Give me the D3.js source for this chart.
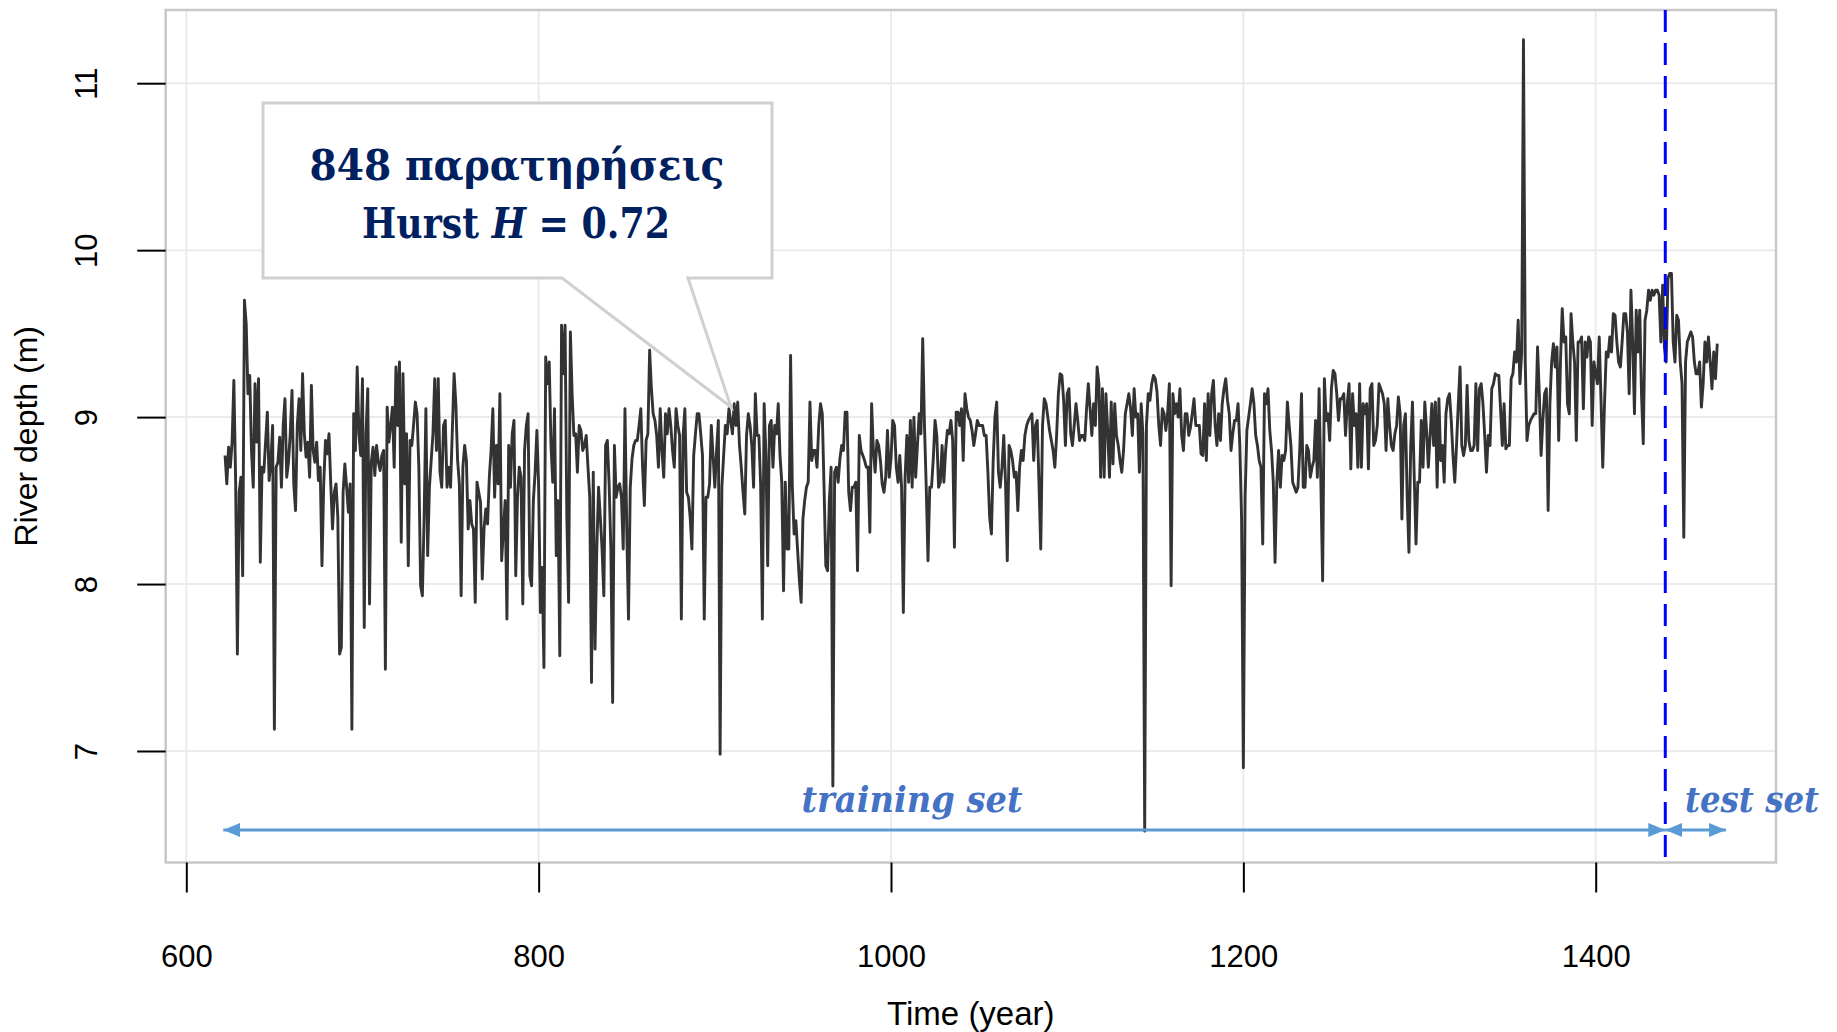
<!DOCTYPE html>
<html><head><meta charset="utf-8">
<script src="https://cdn.jsdelivr.net/npm/d3@7"></script>
<style>html,body{margin:0;padding:0;background:#fff;} svg{display:block;}</style>
</head><body>
<svg id="chart" width="1837" height="1032"></svg>
<script>
// ---------- data ----------
const xTicks = [600, 800, 1000, 1200, 1400];
const yTicks = [7, 8, 9, 10, 11];
const splitYear = 1439.5;
const calloutLine1 = "848 παρατηρήσεις";
const calloutLine2 = ["Hurst ", "H", " = 0.72"];
const trainLabel = "training set";
const testLabel = "test set";
const xTitle = "Time (year)";
const yTitle = "River depth (m)";

// river depth (m), one value per year
const d600 = [ // 622-699
8.77,8.60,8.82,8.70,8.85,9.22,8.62,7.58,
8.55,8.64,8.05,9.70,9.56,9.14,9.25,8.80,8.58,9.20,
8.85,9.23,8.13,8.70,8.67,8.85,9.03,8.62,8.73,8.95,
7.13,8.70,8.73,8.88,8.58,8.95,9.11,8.64,8.73,8.90,
9.16,8.60,8.44,8.95,9.11,8.80,9.26,8.90,8.76,8.85,
8.64,9.19,8.80,8.73,8.85,8.62,8.70,8.11,8.60,8.86,
8.78,8.90,8.60,8.33,8.55,8.60,8.40,7.58,7.62,8.55,
8.72,8.58,8.43,8.60,7.13,9.02,8.80,9.30,8.90,8.77];
const d700 = [ // 700-799
9.23,7.74,8.90,9.17,7.88,8.73,8.82,8.65,8.83,8.73,
8.68,8.77,8.80,7.49,9.06,8.85,8.95,9.06,8.70,9.30,
8.95,9.33,8.25,9.26,8.60,8.90,8.11,8.86,8.83,8.95,
9.09,9.02,8.70,7.99,7.93,8.40,9.05,8.17,8.58,8.74,
8.90,9.23,8.80,9.23,8.67,8.58,8.95,8.98,8.58,8.70,
8.58,8.92,9.26,9.08,8.74,8.60,7.93,8.70,8.83,8.74,
8.33,8.50,8.36,8.33,7.89,8.61,8.55,8.49,8.03,8.33,
8.45,8.36,8.64,8.80,9.05,8.52,8.83,8.60,9.14,8.14,
8.33,8.50,7.79,8.83,8.58,8.90,8.98,8.05,8.52,8.70,
8.64,7.88,8.80,8.95,9.02,8.05,7.99,8.50,8.67,8.92];
const d800 = [ // 800-899
8.58,7.83,8.10,7.50,9.36,9.20,9.33,8.83,8.61,9.05,
8.17,8.50,7.57,9.55,9.26,9.55,8.40,7.89,9.51,9.14,
8.89,8.90,8.67,8.95,8.92,8.80,8.83,8.89,8.70,8.52,
7.41,8.67,7.61,8.21,8.58,8.40,8.21,7.93,8.83,8.86,
8.60,8.21,7.29,8.83,8.52,8.58,8.60,8.52,8.21,9.05,
8.33,7.79,8.58,8.75,8.83,8.86,8.86,8.95,9.05,8.70,
8.47,8.86,8.90,9.40,9.17,9.02,8.98,8.89,8.70,9.05,
8.80,8.64,9.02,8.90,9.05,8.95,8.80,8.70,9.05,8.95,
8.89,7.79,8.89,9.05,8.55,8.52,8.40,8.21,8.77,8.90,
9.02,9.02,8.90,8.77,7.79,8.52,8.52,8.60,8.95,8.77];
const d900 = [ // 900-999
8.58,8.80,8.98,6.98,8.58,8.77,8.95,8.90,9.05,8.98,
8.90,9.08,8.95,9.09,8.83,8.70,8.55,8.42,8.89,9.02,
8.95,8.83,8.58,9.14,8.89,8.89,8.60,7.79,9.08,8.77,
8.11,8.95,8.98,8.70,8.95,8.90,9.08,8.77,8.61,7.96,
8.61,8.21,8.21,9.37,8.58,8.30,8.38,8.20,8.02,7.89,
8.39,8.50,8.58,8.61,9.09,8.74,8.80,8.80,8.70,8.95,
9.08,9.02,8.58,8.11,8.08,8.50,8.70,6.79,8.67,8.70,
8.61,8.75,8.83,8.80,9.03,9.03,8.55,8.44,8.58,8.58,
8.61,8.08,8.89,8.80,8.77,8.74,8.70,8.70,8.31,9.08,
8.80,8.67,8.86,8.83,8.74,8.60,8.55,8.64,8.92,8.64];
const d1000 = [ // 1000-1099
8.75,8.98,8.95,8.70,8.61,8.77,8.58,7.83,8.64,8.89,
8.61,8.98,8.58,9.00,8.64,8.83,9.02,8.90,9.47,8.95,
8.58,8.14,8.58,8.58,8.75,8.98,8.89,8.58,8.61,8.83,
8.61,8.80,8.92,8.90,8.98,8.86,8.22,9.03,9.03,8.95,
9.05,8.74,9.14,9.05,9.00,8.98,8.92,8.83,8.90,8.98,
8.95,8.95,8.95,8.89,8.89,8.67,8.40,8.30,8.74,9.00,
9.09,8.67,8.58,8.70,8.89,8.61,8.14,8.83,8.80,8.74,
8.64,8.67,8.44,8.70,8.80,8.74,8.89,8.95,8.98,9.00,
9.02,8.74,8.95,8.98,8.60,8.21,8.95,9.11,9.08,9.00,
8.92,8.86,8.80,8.70,8.89,9.14,9.26,9.25,9.10,8.83];
const d1100 = [ // 1100-1199
9.14,9.17,8.90,8.83,8.95,9.08,8.98,8.86,8.89,8.89,
8.86,9.05,9.20,9.05,8.89,9.08,8.95,9.30,9.20,8.64,
9.17,8.64,9.14,8.92,8.64,9.09,8.72,9.08,8.89,8.83,
8.74,8.67,8.80,9.02,9.08,9.14,9.05,8.89,9.17,9.00,
9.02,8.67,9.08,8.90,6.52,8.95,9.14,9.10,9.20,9.25,
9.23,9.15,8.95,8.83,9.05,9.02,8.92,9.02,9.20,7.99,
9.14,9.02,9.08,9.00,9.17,8.89,8.80,9.02,9.02,8.89,
8.94,9.02,9.11,8.95,8.95,8.95,8.78,8.77,9.08,8.74,
9.14,8.89,9.14,9.22,8.95,8.83,9.02,8.86,9.08,9.17,
9.23,9.10,9.02,8.80,8.90,8.98,8.98,9.08,8.83,8.39];
const d1200 = [ // 1200-1299
6.90,8.52,8.92,9.00,9.08,9.17,9.08,8.89,8.83,8.74,
8.70,8.24,9.14,9.08,9.17,8.92,8.80,8.61,8.13,8.61,
8.80,8.58,8.77,8.74,8.80,9.09,8.95,8.83,8.61,8.58,
8.55,8.58,8.80,9.14,8.58,8.58,8.83,8.80,8.64,8.70,
8.74,8.98,8.64,9.17,8.61,8.02,9.23,8.98,9.02,8.86,
9.17,9.28,9.26,9.14,8.98,9.11,9.11,9.14,8.89,9.08,
9.20,8.69,9.14,8.95,9.02,8.70,9.20,8.70,9.08,9.02,
9.08,8.69,9.17,9.20,8.83,8.86,8.95,9.20,9.17,9.14,
9.08,8.80,9.11,8.95,8.83,8.80,8.90,8.95,9.12,9.02,
8.39,8.95,9.02,8.52,8.19,8.83,9.09,8.64,8.24,8.61];
const d1300 = [ // 1300-1399
8.61,8.98,8.70,9.09,8.92,8.70,8.89,9.08,8.83,9.09,
8.58,9.11,8.74,8.83,8.61,9.02,9.11,9.14,8.98,8.77,
8.61,8.83,9.08,9.30,8.83,8.77,8.83,9.19,8.86,8.80,
8.80,8.83,9.20,8.80,9.17,9.20,9.08,8.89,8.67,8.89,
8.83,9.17,9.20,9.26,9.25,9.25,9.05,8.83,9.08,8.81,
8.83,8.83,9.23,9.26,9.39,9.33,9.58,9.20,9.39,11.26,
9.33,8.86,8.95,8.98,9.00,9.02,9.02,9.42,9.14,8.77,
8.98,9.14,9.17,8.44,9.08,9.33,9.44,9.30,9.42,8.86,
9.33,9.65,9.45,9.48,9.08,9.02,9.62,9.45,9.33,8.86,
9.45,9.45,9.48,9.05,9.45,9.36,9.48,9.45,8.95,9.33];
const d1400 = [ // 1400-1469
9.26,9.20,9.48,9.11,8.70,9.08,9.39,9.36,9.48,9.39,
9.62,9.61,9.45,9.33,9.30,9.45,9.62,9.62,9.51,9.14,
9.76,9.45,9.02,9.64,9.39,9.64,9.14,8.84,9.58,9.64,
9.76,9.70,9.76,9.73,9.76,9.76,9.73,9.45,9.79,9.42,
9.33,9.83,9.86,9.86,9.45,9.33,9.61,9.58,9.33,9.20,
8.28,9.33,9.45,9.48,9.51,9.48,9.33,9.26,9.26,9.33,
9.06,9.20,9.45,9.33,9.48,9.33,9.17,9.39,9.23,9.44];

const blocks = [[622,d600],[700,d700],[800,d800],[900,d900],[1000,d1000],
                [1100,d1100],[1200,d1200],[1300,d1300],[1400,d1400]];
const data = blocks.flatMap(([s, arr]) => arr.map((v, i) => ({year: s + i, depth: v})));

// ---------- layout ----------
const svg = d3.select("#chart");
const box = {left: 165.7, right: 1776, top: 10, bottom: 862.5};
const x = d3.scaleLinear().domain([600, 1400]).range([186.3, 1595.7]);
const y = d3.scaleLinear().domain([7, 11]).range([751, 83.2]);
const sans = "'Liberation Sans', Arial, sans-serif";
const serif = "'DejaVu Serif', serif";

// gridlines
const grid = svg.append("g").attr("stroke", "#ebebeb").attr("stroke-width", 2);
grid.selectAll("line.h").data(yTicks).join("line").attr("class","h")
  .attr("x1", box.left).attr("x2", box.right).attr("y1", d => y(d)).attr("y2", d => y(d));
grid.selectAll("line.v").data(xTicks).join("line").attr("class","v")
  .attr("y1", box.top).attr("y2", box.bottom).attr("x1", d => x(d)).attr("x2", d => x(d));

// data line
svg.append("path").datum(data)
  .attr("fill", "none").attr("stroke", "#333333").attr("stroke-width", 2.9)
  .attr("stroke-linejoin", "round")
  .attr("d", d3.line().x(d => x(d.year)).y(d => y(d.depth)));

// plot box
svg.append("rect").attr("x", box.left).attr("y", box.top)
  .attr("width", box.right - box.left).attr("height", box.bottom - box.top)
  .attr("fill", "none").attr("stroke", "#c8c8c8").attr("stroke-width", 2.5);

// x axis
const gx = svg.append("g").attr("transform", `translate(0,${box.bottom})`)
  .call(d3.axisBottom(x).tickValues(xTicks).tickSize(30).tickFormat(d3.format("d")));
gx.select(".domain").remove();
gx.selectAll(".tick line").attr("stroke", "#000").attr("stroke-width", 2);
gx.selectAll(".tick text").attr("y", 104.5).attr("dy", null)
  .attr("font-family", sans).attr("font-size", 31).attr("fill", "#000");

// y axis
const gy = svg.append("g").attr("transform", `translate(${box.left},0)`)
  .call(d3.axisLeft(y).tickValues(yTicks).tickSize(28.5).tickFormat(d3.format("d")));
gy.select(".domain").remove();
gy.selectAll(".tick line").attr("stroke", "#000").attr("stroke-width", 2);
gy.selectAll(".tick text").attr("x", null).attr("dy", null).attr("text-anchor", "middle")
  .attr("transform", `translate(${97 - box.left},0) rotate(-90)`)
  .attr("font-family", sans).attr("font-size", 31).attr("fill", "#000");

// axis titles
svg.append("text").attr("x", (box.left + box.right) / 2).attr("y", 1025)
  .attr("text-anchor", "middle").attr("font-family", sans).attr("font-size", 33)
  .attr("fill", "#000").text(xTitle);
svg.append("text").attr("transform", `translate(37,${(box.top + box.bottom) / 2}) rotate(-90)`)
  .attr("text-anchor", "middle").attr("font-family", sans).attr("font-size", 32)
  .attr("fill", "#000").text(yTitle);

// split line
svg.append("line").attr("x1", x(splitYear)).attr("x2", x(splitYear))
  .attr("y1", box.top).attr("y2", box.bottom)
  .attr("stroke", "#0000ff").attr("stroke-width", 3).attr("stroke-dasharray", "22,11");

// arrows
const defs = svg.append("defs");
defs.append("marker").attr("id", "arr").attr("markerUnits", "userSpaceOnUse")
  .attr("markerWidth", 18).attr("markerHeight", 14).attr("refX", 17).attr("refY", 7)
  .attr("orient", "auto-start-reverse")
  .append("path").attr("d", "M0,0 L17,7 L0,14 Z").attr("fill", "#5b9bd5");
const arrowY = 830;
[[621, splitYear], [splitYear, 1474]].forEach(([a, b]) => {
  svg.append("line").attr("x1", x(a)).attr("x2", x(b)).attr("y1", arrowY).attr("y2", arrowY)
    .attr("stroke", "#5b9bd5").attr("stroke-width", 3)
    .attr("marker-start", "url(#arr)").attr("marker-end", "url(#arr)");
});

// fit a text horizontally to a target width by scaling its group
function fitted(cx, cy, width, build) {
  const g = svg.append("g");
  const t = g.append("text").attr("text-anchor", "middle");
  build(t);
  const w = t.node().getComputedTextLength();
  g.attr("transform", `translate(${cx},${cy}) scale(${width / w},1)`);
  return t;
}
fitted(912, 812, 221, t => t.attr("font-family", serif).attr("font-weight", "bold")
  .attr("font-style", "italic").attr("font-size", 36).attr("fill", "#4472c4").text(trainLabel));
fitted(1752, 812, 134, t => t.attr("font-family", serif).attr("font-weight", "bold")
  .attr("font-style", "italic").attr("font-size", 36).attr("fill", "#4472c4").text(testLabel));

// callout
svg.append("path")
  .attr("d", "M263,103 H772 V278 H688 L731,407 L562,278 H263 Z")
  .attr("fill", "#fff").attr("stroke", "#d0d0d0").attr("stroke-width", 3)
  .attr("stroke-linejoin", "miter");
fitted(517, 180, 415, t => t.attr("font-family", serif).attr("font-weight", "bold")
  .attr("font-size", 42).attr("fill", "#002060").text(calloutLine1));
fitted(516, 238, 308, t => {
  t.attr("font-family", serif).attr("font-weight", "bold")
   .attr("font-size", 42).attr("fill", "#002060");
  t.append("tspan").text(calloutLine2[0]);
  t.append("tspan").attr("font-style", "italic").text(calloutLine2[1]);
  t.append("tspan").text(calloutLine2[2]);
});
</script>
</body></html>
